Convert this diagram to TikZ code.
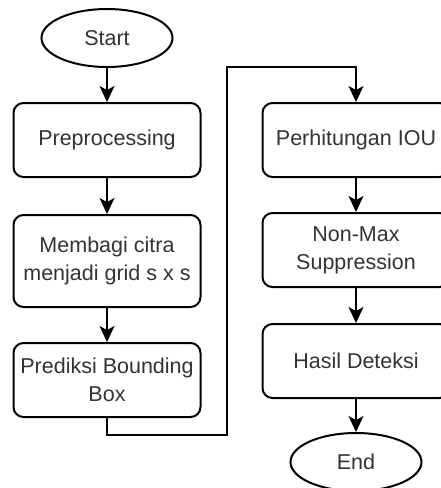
\documentclass[tikz,border=0pt]{standalone}
\usepackage{fontspec}
\setmainfont{Liberation Sans}
\usetikzlibrary{arrows.meta,shapes.geometric}
\tikzset{>={Stealth[width=15pt,length=16pt,inset=4pt]}}
\tikzset{
  procbox/.style={draw, line width=2pt, rounded corners=10pt, minimum width=187pt,
    minimum height=74pt, inner sep=0pt, align=center, text=black!80,
    font=\fontsize{21.5}{28}\selectfont},
  termbox/.style={draw, ellipse, line width=2pt, minimum width=131pt,
    minimum height=58pt, inner sep=0pt, text=black!80,
    font=\fontsize{21.5}{28}\selectfont},
  flow/.style={->, line width=1.1pt}
}

\begin{document}
\begin{tikzpicture}[x=1pt,y=-1pt]

  \useasboundingbox (0,0) rectangle (441,488);
  \clip (0,0) rectangle (441,488);

  % left column
  \node[termbox] (start) at (107,38) {Start};
  \node[procbox] (prep) at (107,140) {Preprocessing};
  \node[procbox, minimum height=92pt] (grid) at (107,261) {Membagi citra\\menjadi grid s x s};
  \node[procbox] (pred) at (107,380) {Prediksi Bounding\\Box};

  % right column
  \node[procbox] (iou) at (356,140) {Perhitungan IOU};
  \node[procbox] (nms) at (356,250) {Non-Max\\Suppression};
  \node[procbox] (hasil) at (356,361) {Hasil Deteksi};
  \node[termbox] (stop) at (356,462) {End};

  \draw[flow] (start) -- (prep);
  \draw[flow] (prep) -- (grid);
  \draw[flow] (grid) -- (pred);

  % jump to second column
  \coordinate (lowbend) at (227,435);
  \coordinate (highbend) at (227,67);
  \draw[flow] (pred.south) |- (lowbend) -- (highbend) -| (iou.north);

  \draw[flow] (iou) -- (nms);
  \draw[flow] (nms) -- (hasil);
  \draw[flow] (hasil) -- (stop);

\end{tikzpicture}
\end{document}
